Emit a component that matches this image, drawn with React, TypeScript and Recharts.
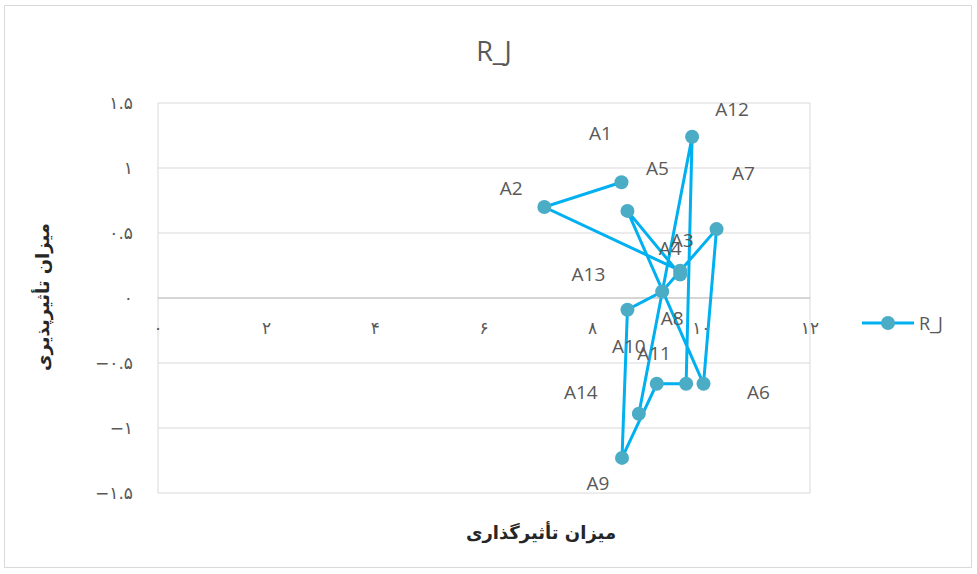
import React from 'react';
import {
  ScatterChart,
  Scatter,
  XAxis,
  YAxis,
  CartesianGrid,
  ReferenceLine,
  ReferenceDot,
} from 'recharts';

// ---- data ----
const pointNames = ['A1', 'A2', 'A3', 'A4', 'A5', 'A6', 'A7', 'A8', 'A13', 'A9', 'A10', 'A11', 'A12', 'A14'];
const xValues = [8.53, 7.11, 9.61, 9.61, 8.64, 10.04, 10.28, 9.28, 8.64, 8.54, 9.18, 9.72, 9.83, 8.85];
const yValues = [0.89, 0.7, 0.21, 0.18, 0.67, -0.66, 0.53, 0.05, -0.09, -1.23, -0.66, -0.66, 1.24, -0.89];
const xTicks = [0, 2, 4, 6, 8, 10, 12];
const yTicks = [-1.5, -1, -0.5, 0, 0.5, 1, 1.5];
const seriesName = 'R_J';
const chartTitle = 'R_J';
const xAxisTitle = 'میزان تأثیرگذاری';
const yAxisTitle = 'میزان تأثیرپذیری';

// label placement (relative to each point, px)
const labelDx = [-21, -33, 2, -10, 30, 55, 27, 10, -39, -24, -28, -32, 40, -58];
const labelDy = [-49, -19, -31, -27, -43, 8, -56, 26, -36, 25, -38, -31, -28, -22];

const data = pointNames.map((name, i) => ({ name, x: xValues[i], y: yValues[i] }));

const LINE_COLOR = '#00B0F0';
const MARKER_COLOR = '#4BACC6';
const TEXT_COLOR = '#595959';

const persianDigits = '۰۱۲۳۴۵۶۷۸۹';
const toPersian = (v: number) =>
  String(v)
    .replace(/\d/g, (d) => persianDigits[Number(d)])
    .replace('-', '−');

const PointShape = (props: any) => {
  const { cx, cy, index, payload } = props;
  const i = typeof index === 'number' ? index : pointNames.indexOf(payload?.name);
  return (
    <g>
      <circle cx={cx} cy={cy} r={7} fill={MARKER_COLOR} />
      <text
        x={cx + (labelDx[i] || 0)}
        y={cy + (labelDy[i] || 0)}
        textAnchor="middle"
        dominantBaseline="central"
        fontSize={19}
        fill={TEXT_COLOR}
        fontFamily="'Open Sans', sans-serif"
      >
        {payload?.name}
      </text>
    </g>
  );
};

export default function App() {
  return (
    <div
      style={{
        position: 'absolute',
        left: 0,
        top: 0,
        width: 977,
        height: 574,
        background: '#fff',
        fontFamily: "'Open Sans', 'DejaVu Sans', sans-serif",
      }}
    >
      <div
        style={{
          position: 'absolute',
          left: 4,
          top: 5,
          width: 968,
          height: 563,
          border: '1px solid #d9d9d9',
          boxSizing: 'border-box',
        }}
      />
      <ScatterChart
        width={977}
        height={574}
        margin={{ top: 103, right: 167, bottom: 80, left: 98 }}
      >
        <CartesianGrid stroke="#d9d9d9" strokeWidth={1} />
        <XAxis
          type="number"
          dataKey="x"
          domain={[0, 12]}
          ticks={xTicks}
          tick={false}
          tickLine={false}
          axisLine={false}
          height={1}
        />
        <YAxis
          type="number"
          dataKey="y"
          domain={[-1.5, 1.5]}
          ticks={yTicks}
          tickFormatter={(v: number) => toPersian(v)}
          tick={{ fontSize: 17, fill: TEXT_COLOR, fontFamily: "'DejaVu Sans', sans-serif" }}
          tickLine={false}
          tickSize={6}
          tickMargin={19}
          axisLine={false}
          width={60}
        />
        <ReferenceLine y={0} stroke="#bfbfbf" strokeWidth={1} />
        {xTicks.map((t) => (
          <ReferenceDot
            key={t}
            x={t}
            y={0}
            r={1}
            fill="none"
            stroke="none"
            label={{
              value: toPersian(t),
              position: 'bottom',
              offset: 23,
              fontSize: 17,
              fill: TEXT_COLOR,
              fontFamily: "'DejaVu Sans', sans-serif",
            }}
          />
        ))}
        <Scatter
          name={seriesName}
          data={data}
          line={{ stroke: LINE_COLOR, strokeWidth: 3 }}
          lineJointType="linear"
          shape={<PointShape />}
          isAnimationActive={false}
        />
      </ScatterChart>
      <div
        style={{
          position: 'absolute',
          left: 860,
          top: 311,
          display: 'flex',
          alignItems: 'center',
        }}
      >
        <svg width={56} height={24}>
          <line x1={2} y1={12} x2={54} y2={12} stroke={LINE_COLOR} strokeWidth={3} />
          <circle cx={28} cy={12} r={7} fill={MARKER_COLOR} />
        </svg>
        <span style={{ color: TEXT_COLOR, fontSize: 18, fontFamily: "'Open Sans', sans-serif", marginLeft: 3 }}>
          {seriesName}
        </span>
      </div>
      <div
        style={{
          position: 'absolute',
          left: 494,
          top: 50,
          transform: 'translate(-50%, -50%)',
          fontSize: 27,
          color: TEXT_COLOR,
          fontFamily: "'Open Sans', sans-serif",
          whiteSpace: 'nowrap',
        }}
      >
        {chartTitle}
      </div>
      <div
        style={{
          position: 'absolute',
          left: 541,
          top: 532,
          transform: 'translate(-50%, -50%)',
          fontSize: 18,
          fontWeight: 'bold',
          color: '#262626',
          fontFamily: "'DejaVu Sans', sans-serif",
          whiteSpace: 'nowrap',
          direction: 'rtl',
        }}
      >
        {xAxisTitle}
      </div>
      <div
        style={{
          position: 'absolute',
          left: 42,
          top: 297,
          transform: 'translate(-50%, -50%) rotate(-90deg)',
          fontSize: 18,
          fontWeight: 'bold',
          color: '#262626',
          fontFamily: "'DejaVu Sans', sans-serif",
          whiteSpace: 'nowrap',
          direction: 'rtl',
        }}
      >
        {yAxisTitle}
      </div>
    </div>
  );
}
